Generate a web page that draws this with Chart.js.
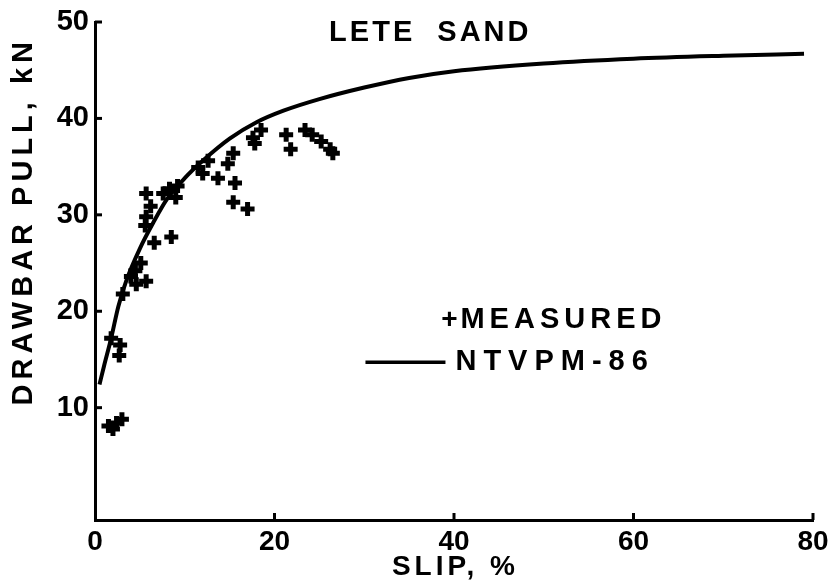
<!DOCTYPE html>
<html>
<head>
<meta charset="utf-8">
<script src="https://cdn.jsdelivr.net/npm/chart.js@4.4.1/dist/chart.umd.min.js"></script>
<style>
  body { margin: 0; background: #fff; }
  #caja { width: 829px; height: 583px; }
</style>
</head>
<body>
<div id="caja"><canvas id="grafica"></canvas></div>
<script>
// Datos (deslizamiento %, tracción kN)
const medidoSlip = [1.5, 2.0, 2.4, 3.0, 1.8, 2.8, 2.7, 3.1, 4.0, 4.5, 5.1, 5.7, 4.6, 6.6, 8.5, 5.6, 5.7, 6.2, 5.7, 7.6, 8.3, 9.0, 9.2, 11.5, 12.6, 12.0, 13.7, 14.8, 15.4, 15.6, 15.4, 17.0, 17.6, 17.8, 18.5, 21.3, 21.8, 23.4, 24.2, 25.2, 26.2, 26.5];
const medidoPull = [8.1, 7.8, 8.4, 8.8, 17.2, 16.5, 15.4, 21.8, 23.6, 24.2, 25.0, 23.1, 22.8, 27.1, 27.7, 28.9, 29.8, 30.9, 32.2, 32.2, 32.7, 31.8, 33.0, 34.9, 35.6, 34.3, 33.8, 35.3, 36.4, 33.3, 31.3, 30.6, 38.0, 37.4, 38.8, 38.3, 36.8, 38.8, 38.3, 37.6, 36.8, 36.4];

const modeloSlip = [0.5, 1.0, 1.8, 2.6, 3.5, 5, 6.5, 8, 10, 12, 15, 18, 21, 25, 30, 35, 40, 50, 60, 70, 79];
const modeloPull = [12.4, 14.3, 17.2, 20.5, 23.2, 26.5, 29.2, 31.6, 33.8, 35.6, 37.9, 39.6, 40.8, 42.0, 43.2, 44.2, 44.9, 45.7, 46.2, 46.5, 46.7];

const ticksX = [0, 20, 40, 60, 80];
const ticksY = [10, 20, 30, 40, 50];

const titulo = 'LETE  SAND';
const tituloX = 'SLIP, %';
const tituloY = 'DRAWBAR PULL, kN';
const leyendaMedido = 'MEASURED';
const leyendaModelo = 'NTVPM-86';

const fuente = '"Liberation Sans", Arial, sans-serif';

function texto(ctx, str, x, y, size, espacio, align) {
    ctx.save();
    ctx.font = 'bold ' + size + 'px ' + fuente;
    ctx.letterSpacing = espacio + 'px';
    ctx.fillStyle = '#000';
    ctx.textAlign = align || 'center';
    ctx.textBaseline = 'middle';
    ctx.fillText(str, x, y);
    ctx.restore();
}

// Marcas de graduación hacia dentro, textos y leyenda
const decorado = {
    id: 'decorado',
    afterDraw(chart) {
        const ctx = chart.ctx;
        const area = chart.chartArea;
        const sx = chart.scales.x;
        const sy = chart.scales.y;
        ctx.save();
        ctx.strokeStyle = '#000';
        ctx.lineWidth = 3;
        ticksY.forEach(v => {
            const y = sy.getPixelForValue(v);
            ctx.beginPath();
            ctx.moveTo(area.left, y);
            ctx.lineTo(area.left + 7, y);
            ctx.stroke();
        });
        ticksX.forEach(v => {
            if (v === 0) return;
            const x = sx.getPixelForValue(v);
            ctx.beginPath();
            ctx.moveTo(x, area.bottom);
            ctx.lineTo(x, area.bottom - 7);
            ctx.stroke();
        });
        ctx.restore();

        const w = area.right - area.left;
        const h = area.bottom - area.top;

        texto(ctx, titulo, area.left + w * 0.467, area.top + 11, 29, 3);
        texto(ctx, tituloX, area.left + w * 0.502, chart.height - 16, 28, 4);

        ctx.save();
        ctx.translate(24, area.top + h * 0.4);
        ctx.rotate(-Math.PI / 2);
        texto(ctx, tituloY, 0, 0, 29, 5);
        ctx.restore();

        // leyenda
        const lx = area.left + w * 0.509;
        const ly1 = area.top + h * 0.598;
        const ly2 = area.top + h * 0.683;
        texto(ctx, '+', lx - 11, ly1, 28, 0);
        texto(ctx, leyendaMedido, lx, ly1, 29, 5, 'left');
        ctx.save();
        ctx.strokeStyle = '#000';
        ctx.lineWidth = 3.5;
        ctx.beginPath();
        ctx.moveTo(lx - 95, ly2);
        ctx.lineTo(lx - 15, ly2);
        ctx.stroke();
        ctx.restore();
        texto(ctx, leyendaModelo, lx - 5, ly2, 29, 7, 'left');
    }
};

const ctx = document.getElementById('grafica').getContext('2d');
const grafica = new Chart(ctx, {
    type: 'scatter',
    data: {
        datasets: [
            {
                label: leyendaMedido,
                data: medidoSlip.map((s, i) => ({ x: s, y: medidoPull[i] })),
                pointStyle: 'cross',
                pointRadius: 7,
                borderColor: '#000',
                backgroundColor: '#000',
                pointBorderWidth: 5,
                showLine: false
            },
            {
                label: leyendaModelo,
                data: modeloSlip.map((s, i) => ({ x: s, y: modeloPull[i] })),
                showLine: true,
                pointRadius: 0,
                borderColor: '#000',
                borderWidth: 4,
                cubicInterpolationMode: 'monotone',
                fill: false
            }
        ]
    },
    options: {
        responsive: true,
        maintainAspectRatio: false,
        animation: false,
        layout: {
            padding: { top: 22, right: 16, left: 0, bottom: 0 }
        },
        plugins: {
            legend: { display: false },
            tooltip: { enabled: false }
        },
        scales: {
            x: {
                type: 'linear',
                min: 0,
                max: 80,
                afterBuildTicks: s => { s.ticks = ticksX.map(v => ({ value: v })); },
                afterFit: s => { s.height = 63; s.paddingRight = 0; s.paddingLeft = 0; },
                grid: { display: false, drawTicks: false },
                border: { color: '#000', width: 3 },
                ticks: {
                    color: '#000',
                    padding: 5,
                    font: { family: fuente, size: 28, weight: 'bold' }
                }
            },
            y: {
                type: 'linear',
                min: -1.65,
                max: 50,
                afterBuildTicks: s => { s.ticks = ticksY.map(v => ({ value: v })); },
                afterFit: s => { s.width = 95; s.paddingTop = 0; s.paddingBottom = 0; },
                grid: { display: false, drawTicks: false },
                border: { color: '#000', width: 3 },
                ticks: {
                    color: '#000',
                    padding: 6,
                    font: { family: fuente, size: 29, weight: 'bold' }
                }
            }
        }
    },
    plugins: [decorado]
});
</script>
</body>
</html>
